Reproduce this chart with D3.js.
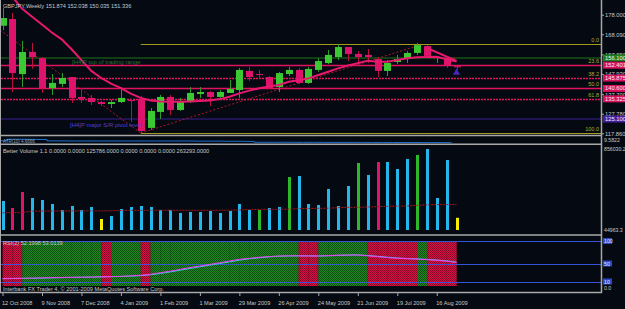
<!DOCTYPE html>
<html>
<head>
<meta charset="utf-8">
<script src="https://cdn.jsdelivr.net/npm/d3@7"></script>
<style>
  html, body { margin: 0; padding: 0; background: #050a12; }
  svg { display: block; font-family: "Liberation Sans", Arial, sans-serif; }
</style>
</head>
<body>
<svg id="chart" width="625" height="309"></svg>
<script>
// weekly GBPJPY bars, 12 Oct 2008 .. 30 Aug 2009
const opens  = [172.4,175.8,147.9,159.1,156.0,140.8,142.9,146.4,136.3,135.8,133.7,132.7,133.7,134.7,135.3,120.6,128.7,136.3,129.7,133.7,137.8,138.8,136.3,138.3,139.8,149.5,147.9,146.4,141.3,147.9,150.0,143.4,150.0,153.5,156.5,161.6,158.1,157.6,155.5,149.5,154.0,155.5,158.6,162.1,156.3,156.0,151.874];
const highs  = [181.4,178.9,164.7,163.7,156.5,147.9,148.4,146.4,140.8,137.3,134.2,134.7,141.3,135.3,136.8,130.7,137.3,137.3,135.8,141.3,141.3,139.3,139.8,144.9,151.0,151.5,150.0,146.9,149.0,151.5,151.0,151.5,156.0,160.1,163.1,161.6,159.6,160.6,156.5,155.0,157.6,159.6,163.7,162.6,156.6,156.5,152.038];
const lows   = [170.2,138.8,141.3,150.5,138.3,137.3,141.3,133.2,133.2,132.2,131.7,130.7,133.2,123.6,118.0,119.5,125.1,127.1,129.2,133.2,135.8,131.7,135.8,138.3,135.8,144.4,145.4,140.3,138.8,146.9,142.9,142.9,149.0,153.0,155.0,154.5,153.5,153.5,146.4,146.9,153.0,153.5,157.6,156.0,153.5,151.0,150.035];
const closes = [176.3,148.4,159.1,156.5,140.8,143.4,145.9,135.8,135.3,133.7,132.7,133.7,135.8,134.2,119.0,129.2,136.3,129.7,134.2,138.3,138.8,136.3,138.8,140.3,150.0,146.4,147.4,140.8,148.4,150.0,143.4,150.5,154.5,157.6,161.6,158.1,156.5,156.5,149.5,153.5,155.5,158.6,162.6,157.1,156.55,152.0,151.336];
const maValues = [192,187,181,177,173,169,165.5,160.5,155,149.5,145.9,143,140.8,138,135.8,134.5,134,133.9,133.9,134,134.2,134.5,135.2,136.4,138.1,139.5,140.7,141.6,142.4,144.0,144.8,145.7,147.4,149.1,150.8,152.2,153.4,154.7,154.2,154.2,155.0,155.9,156.4,156.6,156.7,155.4,154.2];

const dateLabels = ["12 Oct 2008","9 Nov 2008","7 Dec 2008","4 Jan 2009","1 Feb 2009","1 Mar 2009","29 Mar 2009","26 Apr 2009","24 May 2009","21 Jun 2009","19 Jul 2009","16 Aug 2009"];
const dateBars = [0,4,8,12,16,20,24,28,32,36,40,44];
const priceTicks = [178.0,168.09,157.85,147.93,137.70,127.78,117.86];

// drawn objects
const fibHigh = 162.95, fibLow = 118.25, fibStart = 14;
const fibLevels = [0, 23.6, 38.2, 50, 61.8, 100];
const tradingTop = 156.1;
const pivotLevel = 125.1;
const trendDownBars = [-0.25, 14], trendDownPrices = [170.2, 118.0];
const trendUpBars = [14, 42], trendUpPrices = [118.0, 162.2];
const zigzagBars = [43, 46], zigzagPrices = [161.1, 154.6];

// Better Volume
const volumes = [299100,226900,391900,330000,309400,268200,206300,247500,206300,237200,113400,144400,216600,237200,247500,237200,206300,206300,175300,185600,185600,196000,175300,196000,268200,206300,206300,226900,237200,546600,556900,268200,257800,422900,247500,453800,691000,567200,701300,701300,629100,732300,773500,835400,330000,722000,125786];
const volTypes = ["normal","climax","climax","normal","normal","normal","normal","normal","normal","normal","low","normal","normal","normal","normal","normal","normal","normal","normal","normal","normal","normal","normal","normal","normal","normal","churn","normal","normal","churn","normal","normal","normal","normal","normal","normal","churn","normal","climax","normal","normal","normal","churn","normal","normal","normal","low"];
const volAvg = [178400,178900,179500,194000,195200,196000,196400,196800,197100,197300,197000,198500,201500,202400,203000,203400,203700,203900,203600,203200,202900,203100,203800,204500,206800,211000,212300,213100,213500,215400,219600,222600,223800,225100,230300,233600,234100,238200,240300,244100,246300,247500,255200,259600,261800,262700,263293];

// ATR
const atrValues = [6.2,7.4,7.4,7.3,7.2,6.1,6.1,6.0,6.0,6.0,6.0,6.0,6.0,6.0,6.0,6.0,6.0,6.0,6.0,6.0,5.9,5.9,5.9,5.8,5.8,5.7,5.0,5.0,5.0,5.0,4.95,4.95,4.95,4.9,4.9,4.9,4.9,4.85,4.85,4.85,4.8,4.8,4.8,4.75,4.75,4.7,4.67];

// RSI
const rsiMain = [16.5,17,17,17.5,18,18.5,19,19.3,19.6,20,20.5,21,21.5,22.5,23.8,26,29.6,33,37,41,44.4,48,51.8,55.5,59.3,61.5,63.8,65.5,66.7,67,67,66.8,66.7,67.5,68.5,68.9,68.9,67,65,63,61.6,60.5,60,58.5,57,55,52.2];
const rsiSignal = [16,16.6,17,17.2,17.6,18.1,18.6,19,19.4,19.8,20.2,20.7,21.2,22,23,24.9,27.8,31.3,35,39,42.7,46.2,49.9,53.6,57.4,60.4,62.6,64.6,66.1,66.8,67,66.9,66.7,67.1,68,68.7,68.9,67.9,66,64,62.3,61,60.2,59.2,57.7,56,53.0];
const rsiZones = ["down","down","up","up","up","up","up","up","up","up","down","up","up","up","down","up","up","up","up","up","up","up","up","up","up","up","up","up","up","up","down","down","up","up","up","up","up","down","down","down","down","down","up","down","down","down",null];
const rsiLevels = [10, 50, 100];

const W = 625, H = 309;
const plotL = 1, plotR = 601;
const textCol = "#c8c8c8";

const svg = d3.select("#chart");
svg.append("rect").attr("width", W).attr("height", H).attr("fill", "#050a12");

const x = d3.scaleLinear().domain([0, 46]).range([2.5, 456.5]);
const y = d3.scaleLinear().domain([117.86, 178]).range([133.3, 14.7]);
const yVol = d3.scaleLinear().domain([0, 856030.2]).range([230, 147]);
const yAtr = d3.scaleLinear().domain([4, 9.6]).range([143.5, 136.5]);
const yRsi = d3.scaleLinear().domain([0, 100]).range([286, 241]);
const barStep = x(1) - x(0);

const defs = svg.append("defs");
function clip(id, top, bottom) {
    defs.append("clipPath").attr("id", id).append("rect")
        .attr("x", plotL).attr("y", top).attr("width", plotR - plotL).attr("height", bottom - top);
}
clip("clipMain", 0, 135);
clip("clipAtr", 136.5, 143.5);
clip("clipVol", 145, 234);
clip("clipRsi", 236, 291);

// stippled fills for the RSI zones
function stipple(id, c1, c2) {
    const p = defs.append("pattern").attr("id", id)
        .attr("width", 2).attr("height", 2).attr("patternUnits", "userSpaceOnUse");
    p.append("rect").attr("width", 2).attr("height", 2).attr("fill", c1);
    p.append("rect").attr("width", 1).attr("height", 1).attr("fill", c2);
    p.append("rect").attr("x", 1).attr("y", 1).attr("width", 1).attr("height", 1).attr("fill", c2);
}
stipple("redDots", "#d81048", "#8a0626");
stipple("greenDots", "#1f8a1f", "#0e4e12");

// ---------- main window ----------
const mainG = svg.append("g").attr("clip-path", "url(#clipMain)");
const fibPrice = l => fibHigh - (fibHigh - fibLow) * l / 100;

mainG.append("line")
    .attr("x1", plotL).attr("x2", plotR)
    .attr("y1", y(tradingTop)).attr("y2", y(tradingTop))
    .attr("stroke", "#0f3f12").attr("stroke-width", 2);

mainG.append("line")
    .attr("x1", plotL).attr("x2", plotR)
    .attr("y1", y(pivotLevel)).attr("y2", y(pivotLevel))
    .attr("stroke", "#3b1f96").attr("stroke-width", 1);

fibLevels.forEach(l => {
    const yy = Math.round(y(fibPrice(l))) + 0.5;
    const edge = l === 0 || l === 100;
    mainG.append("line")
        .attr("x1", edge ? x(fibStart) : plotL).attr("x2", plotR)
        .attr("y1", yy).attr("y2", yy)
        .attr("stroke", edge ? "#a29a1c" : "#e0145e")
        .attr("stroke-width", edge ? 1 : 1.5)
        .attr("stroke-dasharray", (l === 38.2 || l === 61.8) ? "2,1" : null);
});

// trend lines
[[trendDownBars, trendDownPrices], [trendUpBars, trendUpPrices]].forEach(([bs, ps]) => {
    mainG.append("line")
        .attr("x1", x(bs[0])).attr("y1", y(ps[0]))
        .attr("x2", x(bs[1])).attr("y2", y(ps[1]))
        .attr("stroke", "#b0142c").attr("stroke-width", 1)
        .attr("stroke-dasharray", "2,2");
});
mainG.append("line")
    .attr("x1", x(43.2)).attr("x2", x(46))
    .attr("y1", y(156.0)).attr("y2", y(156.0))
    .attr("stroke", "#b0142c").attr("stroke-dasharray", "2,2");

// candles
const candles = mainG.selectAll(".candle")
    .data(opens.map((o, i) => ({ i, o, h: highs[i], l: lows[i], c: closes[i] })))
    .enter().append("g").attr("class", "candle");
candles.append("line")
    .attr("x1", d => Math.round(x(d.i)) + 0.5).attr("x2", d => Math.round(x(d.i)) + 0.5)
    .attr("y1", d => y(d.h)).attr("y2", d => y(d.l))
    .attr("stroke", d => d.c >= d.o ? "#2a9a2a" : "#b8103c");
candles.append("rect")
    .attr("x", d => Math.round(x(d.i)) - 3)
    .attr("width", 7)
    .attr("y", d => y(Math.max(d.o, d.c)))
    .attr("height", d => Math.max(1, Math.abs(y(d.o) - y(d.c))))
    .attr("fill", d => d.c >= d.o ? "#3cc832" : "#de146c");

// moving average
mainG.append("path")
    .datum(maValues)
    .attr("fill", "none").attr("stroke", "#e8186e").attr("stroke-width", 2)
    .attr("d", d3.line().x((d, i) => x(i)).y(d => y(d)));

mainG.append("line")
    .attr("x1", x(zigzagBars[0])).attr("y1", y(zigzagPrices[0]))
    .attr("x2", x(zigzagBars[1])).attr("y2", y(zigzagPrices[1]))
    .attr("stroke", "#e8186e").attr("stroke-width", 2);

mainG.append("path")
    .attr("d", d3.symbol(d3.symbolTriangle, 22)())
    .attr("transform", `translate(${x(46)},${y(148.6)})`)
    .attr("fill", "#4a26b8");

// object texts
mainG.append("text").attr("x", 72).attr("y", 64)
    .attr("fill", "#2c7030").style("font-size", "6px")
    .text("[H4]P top of trading range");
mainG.append("text").attr("x", 70).attr("y", 127)
    .attr("fill", "#5a3fd0").style("font-size", "6px")
    .text("[H4]P major S/R pivot level");
fibLevels.forEach(l => {
    mainG.append("text")
        .attr("x", 599).attr("y", y(fibPrice(l)) - 2)
        .attr("text-anchor", "end")
        .attr("fill", "#b4a82a").style("font-size", "5.5px")
        .text(l.toFixed(1));
});

svg.append("text").attr("x", 3).attr("y", 8)
    .attr("fill", textCol).style("font-size", "5.6px")
    .text("GBPJPY,Weekly  151.874 152.038 150.035 151.336");

// ---------- ATR strip ----------
svg.append("g").attr("clip-path", "url(#clipAtr)")
    .append("path").datum(atrValues)
    .attr("fill", "none").attr("stroke", "#1f6fd2").attr("stroke-width", 1)
    .attr("d", d3.line().curve(d3.curveStepAfter).x((d, i) => x(i) - barStep / 2).y(d => yAtr(d)));
svg.append("text").attr("x", 3).attr("y", 142.5)
    .attr("fill", "#9aa8b8").style("font-size", "4.5px")
    .text("ATR(10) 4.6666");

// ---------- Better Volume ----------
const volG = svg.append("g").attr("clip-path", "url(#clipVol)");
const volColor = { normal: "#22b8ec", climax: "#e0146a", low: "#f2f200", churn: "#2cb82c" };
volG.selectAll("rect")
    .data(volumes)
    .enter().append("rect")
    .attr("x", (d, i) => Math.round(x(i)) - 1)
    .attr("width", 3)
    .attr("y", d => yVol(d))
    .attr("height", d => yVol(0) - yVol(d))
    .attr("fill", (d, i) => volColor[volTypes[i]]);
volG.append("path").datum(volAvg)
    .attr("fill", "none").attr("stroke", "#a8141c").attr("stroke-width", 1)
    .attr("stroke-dasharray", "2,1")
    .attr("d", d3.line().x((d, i) => x(i)).y(d => yVol(d)));
svg.append("text").attr("x", 3).attr("y", 152.5)
    .attr("fill", textCol).style("font-size", "5.6px")
    .text("Better Volume 1.1 0.0000 0.0000 125786.0000 0.0000 0.0000 0.0000 263293.0000");

// ---------- RSI ----------
const rsiG = svg.append("g").attr("clip-path", "url(#clipRsi)");
rsiG.selectAll(".zone")
    .data(rsiZones)
    .enter().filter(d => d).append("rect")
    .attr("class", "zone")
    .attr("x", (d, i) => x(i))
    .attr("width", barStep + 0.2)
    .attr("y", yRsi(100)).attr("height", yRsi(0) - yRsi(100))
    .attr("fill", d => d === "up" ? "url(#greenDots)" : "url(#redDots)");
rsiLevels.forEach(l => {
    rsiG.append("line")
        .attr("x1", plotL).attr("x2", plotR)
        .attr("y1", Math.round(yRsi(l)) + 0.5).attr("y2", Math.round(yRsi(l)) + 0.5)
        .attr("stroke", "#3454d8").attr("stroke-width", 1);
});
rsiG.append("path").datum(rsiSignal)
    .attr("fill", "none").attr("stroke", "#3cc8f0").attr("stroke-width", 1)
    .attr("d", d3.line().x((d, i) => x(i)).y(d => yRsi(d)));
rsiG.append("path").datum(rsiMain)
    .attr("fill", "none").attr("stroke", "#f040f0").attr("stroke-width", 1)
    .attr("d", d3.line().x((d, i) => x(i)).y(d => yRsi(d)));
svg.append("text").attr("x", 3).attr("y", 244.5)
    .attr("fill", textCol).style("font-size", "5.6px")
    .text("RSI(2) 52.1998 53.0139");
svg.append("text").attr("x", 3).attr("y", 290.5)
    .attr("fill", textCol).style("font-size", "5.6px")
    .text("Interbank FX Trader 4, © 2001-2009 MetaQuotes Software Corp.");

// ---------- frames ----------
const frame = "#a8a8a8";
[135.5, 144.2, 235].forEach(yy => {
    svg.append("line").attr("x1", 0).attr("x2", plotR + 1)
        .attr("y1", yy).attr("y2", yy)
        .attr("stroke", frame).attr("stroke-width", 1.5);
});
svg.append("line").attr("x1", 0).attr("x2", plotR + 1)
    .attr("y1", 292.5).attr("y2", 292.5).attr("stroke", frame).attr("stroke-width", 1.5);
svg.append("line").attr("x1", plotR + 0.5).attr("x2", plotR + 0.5)
    .attr("y1", 0).attr("y2", 293).attr("stroke", frame).attr("stroke-width", 1.5);
svg.append("line").attr("x1", 0.5).attr("x2", 0.5)
    .attr("y1", 0).attr("y2", 293).attr("stroke", frame).attr("stroke-width", 1);

// ---------- axes ----------
const priceAxis = svg.append("g")
    .attr("transform", `translate(${plotR + 1},0)`)
    .call(d3.axisRight(y).tickValues(priceTicks).tickFormat(d3.format(".3f")).tickSize(2));
priceAxis.select(".domain").remove();
priceAxis.selectAll("line").attr("stroke", frame);
priceAxis.selectAll("text")
    .attr("x", 3).attr("fill", textCol)
    .style("font-size", "5.8px").style("font-family", "Liberation Sans, Arial, sans-serif");

// price tags on the scale
const tags = [
    { v: tradingTop, col: "#1d7f1d" },
    { v: fibPrice(23.6), col: "#d8125e" },
    { v: fibPrice(38.2), col: "#d8125e" },
    { v: fibPrice(50), col: "#d8125e" },
    { v: fibPrice(61.8), col: "#d8125e" },
    { v: pivotLevel, col: "#44209e" }
];
tags.forEach(t => {
    svg.append("rect")
        .attr("x", plotR + 2).attr("y", y(t.v) - 3.5)
        .attr("width", W - plotR - 2).attr("height", 7)
        .attr("fill", t.col);
    svg.append("text")
        .attr("x", plotR + 4).attr("y", y(t.v) + 2)
        .attr("fill", "#f0f0f0").style("font-size", "5.8px")
        .text(t.v.toFixed(3));
});

// sub-window scale labels
const sideText = (txt, yy) => svg.append("text")
    .attr("x", plotR + 3).attr("y", yy)
    .attr("fill", textCol).style("font-size", "5.2px").text(txt);
sideText("9.5822", 141.5);
sideText("856030.2", 151);
sideText("44963.3", 232);
sideText("0.0", 290);
rsiLevels.forEach(l => {
    svg.append("rect")
        .attr("x", plotR + 2).attr("y", yRsi(l) - 3)
        .attr("width", 9).attr("height", 6)
        .attr("fill", "#2c48c8");
    svg.append("text")
        .attr("x", plotR + 3).attr("y", yRsi(l) + 2)
        .attr("fill", "#e8e8ff").style("font-size", "5.2px")
        .text(l);
});

// time scale
const timeAxis = svg.append("g")
    .attr("transform", "translate(0,293)")
    .call(d3.axisBottom(x).tickValues(dateBars).tickFormat((d, i) => dateLabels[i]).tickSize(3));
timeAxis.select(".domain").remove();
timeAxis.selectAll("line").attr("stroke", frame);
timeAxis.selectAll("text")
    .attr("text-anchor", "start").attr("x", -1).attr("y", 8).attr("dy", "0.71em")
    .attr("fill", textCol)
    .style("font-size", "5.6px").style("font-family", "Liberation Sans, Arial, sans-serif");
</script>
</body>
</html>
